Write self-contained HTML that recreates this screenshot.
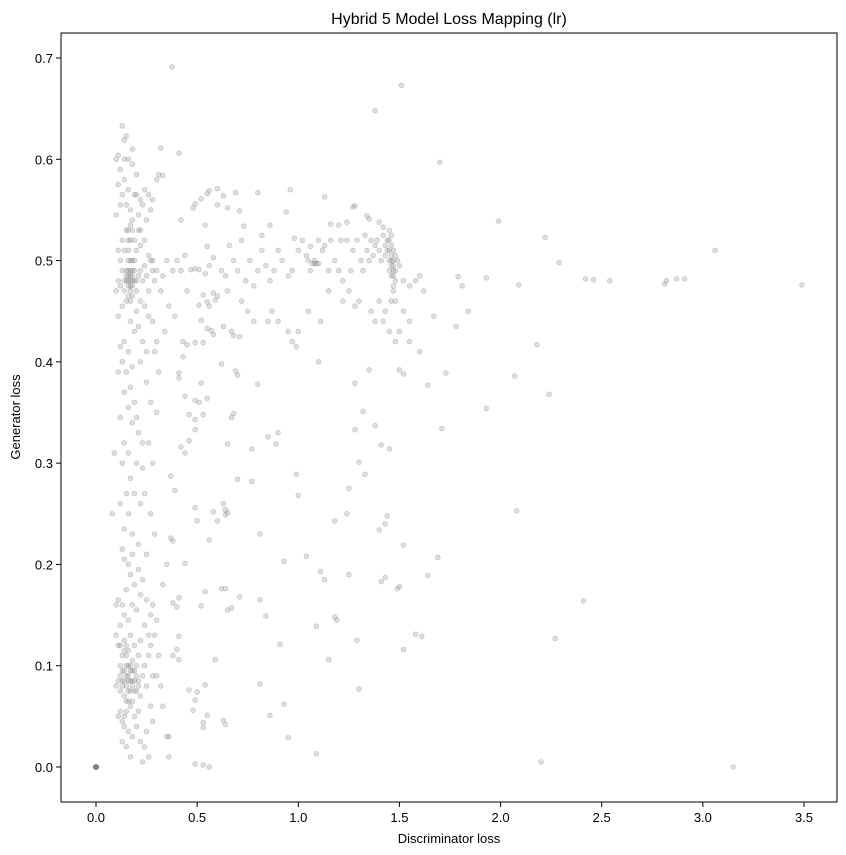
<!DOCTYPE html>
<html><head><meta charset="utf-8"><style>
html,body{margin:0;padding:0;background:#fff;}
svg{display:block;font-family:"Liberation Sans","DejaVu Sans",sans-serif;}
</style></head><body>
<svg id="chart" width="846" height="855" viewBox="0 0 846 855">
<rect x="0" y="0" width="846" height="855" fill="#fff"/>
<text x="449" y="24" text-anchor="middle" font-size="16" fill="#000">Hybrid 5 Model Loss Mapping (lr)</text>
<g id="points"></g>
<g id="xaxis"></g>
<g id="yaxis"></g>
<rect x="61" y="33" width="776" height="769" fill="none" stroke="#000" stroke-width="1"/>
<text x="449" y="843" text-anchor="middle" font-size="13">Discriminator loss</text>
<text transform="translate(20,417) rotate(-90)" text-anchor="middle" font-size="13">Generator loss</text>
</svg>
<script>
const xTicks=[0,0.5,1,1.5,2,2.5,3,3.5];
const xTickLabels=["0.0","0.5","1.0","1.5","2.0","2.5","3.0","3.5"];
const yTicks=[0,0.1,0.2,0.3,0.4,0.5,0.6,0.7];
const yTickLabels=["0.0","0.1","0.2","0.3","0.4","0.5","0.6","0.7"];
const pts=[
[0.376,0.691],[1.51,0.673],[1.38,0.648],[1.70,0.597],[0.41,0.606],[0.14,0.619],[0.13,0.633],[0.15,0.623],[0.11,0.604],[0.32,0.611],[0.33,0.584],[0.60,0.571],[0.69,0.567],[0.80,0.567],[0.96,0.570],[1.13,0.563],[1.27,0.553],[1.34,0.544],[1.99,0.539],[2.22,0.523],[3.06,0.510],[3.49,0.476],[2.46,0.481],[2.54,0.480],[2.42,0.482],[2.82,0.480],[2.87,0.482],[2.91,0.482],[2.81,0.477],[2.29,0.498],[2.09,0.476],[1.81,0.475],[1.93,0.483],[1.79,0.484],[1.84,0.450],[1.78,0.435],[2.18,0.417],[1.67,0.445],[1.60,0.410],[1.55,0.420],[1.73,0.389],[2.07,0.386],[1.64,0.377],[2.24,0.368],[1.93,0.354],[1.71,0.334],[2.08,0.253],[1.69,0.207],[1.64,0.189],[2.41,0.164],[2.27,0.127],[1.58,0.131],[1.61,0.129],[1.52,0.116],[2.20,0.005],[3.15,0.000],[1.50,0.178],[1.49,0.176],[1.43,0.187],[1.41,0.183],[1.52,0.219],[1.44,0.248],[1.43,0.240],[1.40,0.234],[1.41,0.318],[1.45,0.314],[1.33,0.289],[1.30,0.301],[1.38,0.337],[1.32,0.351],[1.35,0.392],[1.28,0.379],[1.50,0.392],[1.52,0.388],[1.25,0.275],[1.28,0.333],[1.24,0.250],[1.18,0.243],[1.25,0.190],[1.29,0.125],[1.30,0.077],[1.15,0.106],[1.18,0.148],[1.19,0.145],[1.11,0.193],[1.13,0.185],[1.09,0.139],[1.04,0.208],[1.09,0.013],[1.00,0.268],[0.99,0.289],[0.93,0.203],[0.91,0.121],[0.93,0.062],[0.95,0.029],[1.10,0.400],[0.97,0.420],[0.99,0.415],[0.90,0.330],[0.89,0.319],[0.85,0.326],[0.77,0.314],[0.80,0.378],[0.81,0.230],[0.81,0.165],[0.84,0.149],[0.81,0.082],[0.86,0.051],[0.77,0.282],[0.70,0.284],[0.68,0.349],[0.69,0.391],[0.70,0.387],[0.71,0.425],[0.63,0.435],[0.68,0.426],[0.62,0.398],[0.67,0.345],[0.65,0.319],[0.63,0.260],[0.64,0.254],[0.64,0.249],[0.65,0.251],[0.60,0.243],[0.58,0.252],[0.56,0.224],[0.50,0.243],[0.49,0.256],[0.62,0.176],[0.64,0.176],[0.71,0.168],[0.67,0.157],[0.65,0.155],[0.54,0.173],[0.52,0.159],[0.59,0.106],[0.54,0.081],[0.50,0.074],[0.46,0.076],[0.49,0.066],[0.55,0.051],[0.53,0.044],[0.48,0.056],[0.63,0.046],[0.64,0.042],[0.53,0.039],[0.49,0.003],[0.53,0.002],[0.56,0.000],[0.41,0.106],[0.40,0.116],[0.38,0.110],[0.41,0.129],[0.41,0.167],[0.38,0.162],[0.40,0.158],[0.36,0.030],[0.36,0.010],[0.44,0.201],[0.38,0.223],[0.37,0.226],[0.39,0.273],[0.37,0.287],[0.44,0.310],[0.42,0.316],[0.46,0.322],[0.49,0.333],[0.49,0.343],[0.46,0.348],[0.49,0.362],[0.51,0.360],[0.52,0.379],[0.44,0.366],[0.53,0.348],[0.55,0.364],[0.41,0.384],[0.41,0.389],[0.43,0.405],[0.43,0.420],[0.45,0.417],[0.49,0.419],[0.53,0.419],[0.57,0.431],[0.58,0.427],[0.55,0.433],[0.52,0.441],[0.51,0.456],[0.56,0.455],[0.59,0.461],[0.55,0.459],[0.53,0.466],[0.58,0.468],[0.51,0.491],[0.49,0.492],[0.47,0.491],[0.56,0.495],[0.54,0.487],[0.58,0.503],[0.55,0.514],[0.54,0.535],[0.42,0.540],[0.48,0.552],[0.49,0.556],[0.52,0.561],[0.55,0.566],[0.56,0.569],[0.60,0.555],[0.63,0.564],[0.65,0.552],[0.71,0.549],[0.73,0.534],[0.82,0.525],[0.86,0.535],[0.94,0.548],[0.98,0.522],[1.06,0.514],[1.16,0.536],[1.20,0.535],[1.24,0.538],[1.28,0.554],[1.35,0.541],[1.40,0.538],[1.42,0.533],
[1.42,0.525],[1.44,0.52],[1.45,0.53],[1.46,0.515],[1.47,0.50],[1.48,0.49],[1.47,0.485],[1.46,0.495],[1.48,0.505],[1.45,0.51],[1.43,0.505],[1.41,0.50],[1.39,0.52],[1.38,0.515],[1.40,0.51],[1.36,0.52],[1.34,0.51],[1.33,0.525],[1.37,0.505],[1.35,0.50],[1.47,0.47],[1.46,0.46],[1.48,0.46],[1.49,0.50],[1.50,0.495],[1.52,0.48],[1.55,0.475],[1.58,0.48],[1.60,0.485],[1.62,0.47],[1.55,0.44],[1.52,0.45],[1.50,0.43],[1.48,0.42],[1.45,0.43],[1.43,0.45],[1.42,0.44],[1.40,0.46],[1.38,0.44],[1.36,0.45],[1.30,0.46],[1.28,0.455],[1.25,0.47],[1.22,0.48],[1.20,0.49],[1.18,0.50],[1.15,0.49],[1.12,0.51],[1.10,0.52],[1.08,0.50],[1.06,0.49],[1.05,0.50],[1.04,0.505],[1.02,0.52],[1.00,0.51],[0.97,0.49],[0.95,0.485],[0.92,0.50],[0.90,0.51],[0.88,0.49],[0.86,0.48],[0.84,0.495],[0.82,0.51],[0.80,0.49],[0.78,0.475],[0.76,0.50],[0.74,0.48],[0.72,0.52],[0.70,0.49],[0.68,0.50],[0.66,0.515],[0.64,0.485],[0.62,0.49],[0.60,0.465],[0.65,0.47],[0.75,0.45],[0.85,0.44],[0.90,0.44],[0.95,0.43],[1.05,0.45],[1.15,0.47],[1.22,0.46],[1.27,0.51],[1.29,0.52],[1.31,0.50],[1.32,0.49],[1.26,0.49],[1.24,0.52],[1.21,0.52],[1.16,0.52],[1.13,0.515],[1.09,0.497],[1.07,0.497],[1.11,0.44],[1.0,0.43],[0.87,0.45],[0.78,0.44],[0.72,0.46],[0.67,0.43],[0.45,0.47],[0.40,0.50],[0.38,0.49],[0.35,0.50],[0.33,0.485],[0.30,0.49],[0.28,0.50],[0.32,0.47],[0.36,0.455],[0.42,0.49],[0.44,0.505],[0.39,0.445],[0.34,0.43],[0.30,0.42],[0.28,0.44],
[1.45,0.52],[1.46,0.50],[1.47,0.49],[1.46,0.485],[1.45,0.50],[1.47,0.51],[1.48,0.48],[1.44,0.51],[1.46,0.525],[1.45,0.49],[1.47,0.495],[1.46,0.505],[1.43,0.515],[1.47,0.475],[1.08,0.497],[1.10,0.497],
[0.10,0.60],[0.12,0.59],[0.14,0.58],[0.16,0.57],[0.18,0.595],[0.20,0.585],[0.22,0.56],[0.24,0.57],[0.26,0.565],[0.28,0.56],[0.30,0.58],[0.11,0.575],[0.13,0.565],[0.15,0.555],[0.17,0.55],[0.19,0.565],[0.21,0.545],[0.23,0.555],[0.25,0.54],[0.27,0.55],[0.31,0.585],[0.16,0.60],[0.18,0.61],[0.14,0.60],[0.12,0.555],[0.2,0.565],[0.22,0.53],[0.18,0.54],[0.1,0.545],
[0.10,0.47],[0.11,0.48],[0.12,0.475],[0.13,0.49],[0.14,0.47],[0.15,0.48],[0.16,0.485],[0.17,0.475],[0.18,0.49],[0.19,0.48],[0.20,0.47],[0.21,0.485],[0.22,0.49],[0.23,0.48],[0.24,0.495],[0.25,0.485],[0.26,0.47],[0.27,0.50],[0.28,0.49],[0.29,0.48],[0.12,0.50],[0.14,0.51],[0.16,0.52],[0.18,0.50],[0.20,0.51],[0.22,0.515],[0.24,0.52],[0.26,0.505],[0.15,0.53],[0.17,0.535],[0.19,0.52],[0.21,0.53],[0.13,0.52],[0.11,0.51],[0.16,0.50],[0.18,0.465],[0.15,0.46],[0.13,0.455],[0.20,0.45],[0.22,0.46],[0.24,0.455],[0.26,0.445],[0.11,0.445],[0.17,0.44],[0.19,0.43],[0.14,0.42],[0.12,0.415],[0.16,0.41],[0.21,0.435],[0.23,0.42],[0.25,0.41],[0.17,0.48],[0.16,0.475],[0.18,0.485],[0.17,0.49],[0.16,0.49],
[0.17,0.485],[0.16,0.48],[0.17,0.47],[0.18,0.475],[0.15,0.485],[0.17,0.50],[0.16,0.51],[0.17,0.52],[0.18,0.53],[0.16,0.53],[0.15,0.49],[0.14,0.48],[0.19,0.49],[0.18,0.48],[0.17,0.46],[0.20,0.48],[0.19,0.50],[0.16,0.465],
[0.13,0.40],[0.15,0.39],[0.17,0.375],[0.14,0.37],[0.19,0.36],[0.16,0.355],[0.12,0.345],[0.18,0.34],[0.21,0.33],[0.14,0.32],[0.16,0.31],[0.20,0.30],[0.13,0.30],[0.23,0.295],[0.17,0.285],[0.15,0.27],[0.19,0.27],[0.22,0.26],[0.12,0.26],[0.16,0.25],[0.14,0.235],[0.18,0.23],[0.21,0.22],[0.13,0.215],[0.25,0.38],[0.27,0.36],[0.26,0.32],[0.28,0.30],[0.24,0.27],[0.27,0.25],[0.29,0.23],[0.25,0.21],[0.30,0.35],[0.31,0.39],[0.09,0.31],[0.08,0.25],[0.11,0.39],[0.29,0.41],[0.22,0.40],[0.18,0.395],[0.20,0.345],[0.23,0.32],
[0.10,0.13],[0.11,0.12],[0.12,0.10],[0.13,0.11],[0.14,0.125],[0.15,0.09],[0.16,0.10],[0.17,0.085],[0.18,0.08],[0.19,0.095],[0.20,0.075],[0.21,0.085],[0.22,0.07],[0.23,0.09],[0.24,0.10],[0.25,0.08],[0.26,0.11],[0.27,0.12],[0.28,0.09],[0.29,0.13],[0.10,0.08],[0.11,0.085],[0.12,0.075],[0.13,0.08],[0.14,0.07],[0.15,0.065],[0.16,0.075],[0.17,0.06],[0.18,0.065],[0.19,0.05],[0.12,0.055],[0.11,0.05],[0.13,0.045],[0.14,0.04],[0.16,0.035],[0.18,0.03],[0.20,0.04],[0.22,0.025],[0.24,0.02],[0.15,0.02],[0.13,0.025],[0.17,0.01],[0.23,0.005],[0.26,0.01],[0.25,0.035],[0.21,0.055],[0.27,0.06],[0.28,0.045],[0.12,0.14],[0.14,0.15],[0.16,0.145],[0.18,0.16],[0.20,0.155],[0.22,0.17],[0.19,0.18],[0.17,0.19],[0.15,0.175],[0.13,0.16],[0.11,0.165],[0.21,0.195],[0.23,0.185],[0.25,0.165],[0.27,0.15],[0.24,0.14],[0.26,0.13],[0.14,0.205],[0.16,0.20],[0.18,0.21],[0.10,0.16],[0.19,0.12],[0.21,0.11],[0.17,0.13],[0.15,0.11],[0.13,0.095],[0.22,0.125],[0.28,0.16],[0.30,0.09],[0.32,0.08],[0.31,0.11],[0.33,0.06],[0.35,0.03],[0.30,0.145],[0.33,0.18],[0.35,0.20],[0.14,0.085],[0.15,0.08],[0.16,0.085],[0.17,0.10],[0.18,0.095],[0.19,0.075],[0.14,0.115],[0.12,0.12],
[0.15,0.10],[0.16,0.09],[0.17,0.075],[0.18,0.085],[0.14,0.095],[0.15,0.12],[0.13,0.085],[0.19,0.085],[0.20,0.09],[0.16,0.115],[0.17,0.095],[0.12,0.09],[0.18,0.105],[0.15,0.055],[0.14,0.05],[0.16,0.065],[0.21,0.08],[0.20,0.10],
[0,0],[0,0],[0,0],[0,0],[0,0],[0,0],[0,0],[0,0],[0,0],[0,0],[0,0],[0,0],[0,0],[0,0],[0,0],[0,0],[0,0],[0,0],[0,0],[0,0],[0,0],[0,0],[0,0],[0,0],[0,0],[0,0],[0,0],[0,0],[0,0],[0,0]
];
const xs=pts.map(p=>p[0]);
const ys=pts.map(p=>p[1]);
const NS="http://www.w3.org/2000/svg";
const L=61,R=837,T=33,B=802;
function xScale(v){return 96+v*(804-96)/3.5;}
function yScale(v){return 767-v*(767-58)/0.7;}
const pg=document.getElementById('points');
for(let i=0;i<xs.length;i++){
  const c=document.createElementNS(NS,'circle');
  c.setAttribute('cx',xScale(xs[i]));c.setAttribute('cy',yScale(ys[i]));c.setAttribute('r',2.4);
  c.setAttribute('fill','#808080');c.setAttribute('fill-opacity','0.25');
  c.setAttribute('stroke','#808080');c.setAttribute('stroke-opacity','0.35');c.setAttribute('stroke-width','0.8');
  
  
  pg.appendChild(c);
}
const xg=document.getElementById('xaxis');
xTicks.forEach((t,i)=>{
  const x=xScale(t);
  const l=document.createElementNS(NS,'line');
  l.setAttribute('x1',x);l.setAttribute('x2',x);l.setAttribute('y1',B);l.setAttribute('y2',B+5);l.setAttribute('stroke','#000');
  
  
  xg.appendChild(l);
  const tx=document.createElementNS(NS,'text');
  tx.setAttribute('x',x);tx.setAttribute('y',B+20);tx.setAttribute('text-anchor','middle');tx.setAttribute('font-size','13');
  tx.textContent=xTickLabels[i];
  
  
  xg.appendChild(tx);
});
const yg=document.getElementById('yaxis');
yTicks.forEach((t,i)=>{
  const y=yScale(t);
  const l=document.createElementNS(NS,'line');
  l.setAttribute('x1',L-5);l.setAttribute('x2',L);l.setAttribute('y1',y);l.setAttribute('y2',y);l.setAttribute('stroke','#000');
  
  
  yg.appendChild(l);
  const tx=document.createElementNS(NS,'text');
  tx.setAttribute('x',L-8);tx.setAttribute('y',y+5);tx.setAttribute('text-anchor','end');tx.setAttribute('font-size','13');
  tx.textContent=yTickLabels[i];
  
  
  yg.appendChild(tx);
});
</script>
</body></html>
